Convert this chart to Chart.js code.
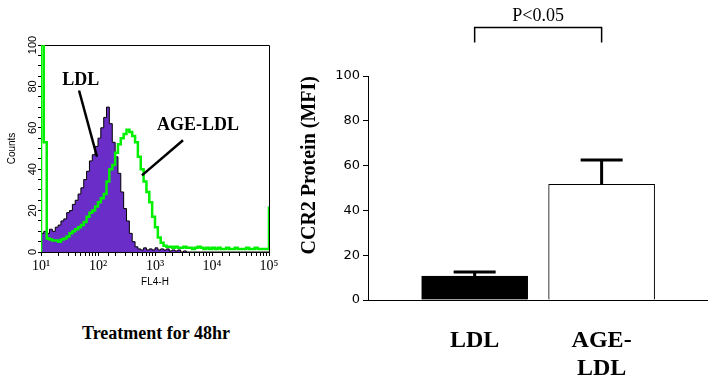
<!DOCTYPE html>
<html>
<head>
<meta charset="utf-8">
<script src="https://cdn.jsdelivr.net/npm/chart.js@4.4.1/dist/chart.umd.min.js"></script>
<style>
  html, body { margin: 0; padding: 0; background: #fff; }
  #wrap { position: relative; width: 716px; height: 381px; overflow: hidden; }
  #histo { position: absolute; left: 0; top: 0; }
  #bars { position: absolute; left: 290px; top: 0; }
  #caption { position: absolute; left: 82px; top: 324px; font: bold 18px/18px "Liberation Serif", serif; white-space: nowrap; }
</style>
</head>
<body>
<div id="wrap">
  <canvas id="histo" width="290" height="300"></canvas>
  <canvas id="bars" width="426" height="381"></canvas>
  <div id="caption">Treatment for 48hr</div>
</div>
<script>
// FL4-H channel where each histogram bin starts (log spaced)
const fl4 = [10,
  10, 11.2, 12.6, 14.1, 15.8, 17.8, 20.0, 22.4, 25.1, 28.2,
  31.6, 35.5, 39.8, 44.7, 50.1, 56.2, 63.1, 70.8, 79.4, 89.1,
  100, 112, 126, 141, 158, 178, 200, 224, 251, 282,
  316, 355, 398, 447, 501, 562, 631, 708, 794, 891,
  1000, 1122, 1259, 1413, 1585, 1778, 1995, 2239, 2512, 2818,
  3162, 3548, 3981, 4467, 5012, 5623, 6310, 7079, 7943, 8913,
  10000, 11220, 12589, 14125, 15849, 17783, 19953, 22387, 25119, 28184,
  31623, 35481, 39811, 44668, 50119, 56234, 63096, 70795, 79433, 89125,
  100000];

// counts, LDL (purple filled)
const ldlCounts = [0,
  9, 10, 9, 11, 10, 12, 13, 15, 16, 19,
  20, 23, 25, 28, 31, 35, 39, 44, 47, 51,
  55, 60, 65, 70, 62, 53, 46, 38, 29, 21,
  15, 9, 5, 2.5, 1.5, 1, 2, 1, 1.5, 1,
  2, 1, 1.5, 1, 1.5, 0.5, 1, 0.5, 1, 0,
  0.5, 0, 0, 0, 0, 0, 0, 0, 0, 0,
  0, 0, 0, 0, 0, 0, 0, 0, 0, 0,
  0, 0, 0, 0, 0, 0, 0, 0, 0, 0,
  0];

// counts, AGE-LDL (green line); first bin is off scale
const ageCounts = [0,
  110, 53, 6.5, 6, 5.5, 5.5, 5, 6, 6.5, 7.5,
  9, 10, 11, 12, 13, 14.5, 17, 19, 20, 22,
  24, 26, 28, 34, 40, 42, 48, 52, 55, 57,
  59, 58, 56, 53, 46, 40, 34, 29, 24, 17,
  12, 7, 4.5, 3, 2.5, 2.5, 2, 2.5, 2, 2,
  2.5, 2, 2, 1.5, 2, 2.5, 2, 1.5, 2, 1.5,
  2, 1.5, 2, 1.5, 1.5, 2, 1.5, 1.5, 2, 1.5,
  1.5, 1.5, 2, 1.5, 1.5, 2, 1.5, 1.5, 1.5, 1.5,
  22];

const decadeTicks = [10, 100, 1000, 10000, 100000];
const decadeLabels = ['10¹', '10²', '10³', '10⁴', '10⁵'];

// bar chart
const groups = ['LDL', ['AGE-', 'LDL']];
const groupPos = [1, 2];
const mfiMean = [10.7, 51.6];
const mfiErr = [1.8, 10.9];
const pText = 'P<0.05';
const pLevels = [122, 115];

let toPoints = (counts) => counts.map((v, i) => ({ x: fl4[i], y: v }));

// frame + labelled pointers on the histogram
let histoFrame = {
  id: 'histoFrame',
  beforeDatasetsDraw(chart) {
    const { ctx, chartArea: a } = chart;
    ctx.save();
    ctx.strokeStyle = '#000';
    ctx.lineWidth = 1;
    ctx.beginPath();
    ctx.moveTo(a.left, a.top + 0.5);
    ctx.lineTo(a.right + 0.5, a.top + 0.5);
    ctx.lineTo(a.right + 0.5, a.bottom);
    ctx.stroke();
    ctx.restore();
  },
  afterDatasetsDraw(chart) {
    const { ctx, scales: { x, y } } = chart;
    const notes = [
      { text: 'LDL', at: [50, 83], from: [46.5, 78], to: [96, 46] },
      { text: 'AGE-LDL', at: [5700, 61], from: [3100, 54], to: [590, 37] }
    ];
    ctx.save();
    ctx.strokeStyle = '#000';
    ctx.fillStyle = '#000';
    ctx.lineWidth = 2.5;
    ctx.font = 'bold 18px "Liberation Serif", serif';
    ctx.textAlign = 'center';
    ctx.textBaseline = 'middle';
    notes.forEach(n => {
      ctx.beginPath();
      ctx.moveTo(x.getPixelForValue(n.from[0]), y.getPixelForValue(n.from[1]));
      ctx.lineTo(x.getPixelForValue(n.to[0]), y.getPixelForValue(n.to[1]));
      ctx.stroke();
      ctx.fillText(n.text, x.getPixelForValue(n.at[0]), y.getPixelForValue(n.at[1]));
    });
    ctx.restore();
  }
};

// error bars and significance bracket
let barExtras = {
  id: 'barExtras',
  afterDatasetsDraw(chart) {
    const { ctx, scales: { x, y } } = chart;
    ctx.save();
    ctx.strokeStyle = '#000';
    ctx.fillStyle = '#000';
    ctx.lineWidth = 3;
    groupPos.forEach((p, i) => {
      const px = x.getPixelForValue(p);
      const top = y.getPixelForValue(mfiMean[i]);
      const end = y.getPixelForValue(mfiMean[i] + mfiErr[i]);
      ctx.beginPath();
      ctx.moveTo(px, top);
      ctx.lineTo(px, end);
      ctx.moveTo(px - 21, end);
      ctx.lineTo(px + 21, end);
      ctx.stroke();
    });
    const x1 = x.getPixelForValue(groupPos[0]);
    const x2 = x.getPixelForValue(groupPos[1]);
    const yb = Math.round(y.getPixelForValue(pLevels[0])) + 0.5;
    const yl = y.getPixelForValue(pLevels[1]);
    ctx.lineWidth = 1.5;
    ctx.beginPath();
    ctx.moveTo(x1, yl);
    ctx.lineTo(x1, yb);
    ctx.lineTo(x2, yb);
    ctx.lineTo(x2, yl);
    ctx.stroke();
    ctx.font = '18px "Liberation Serif", serif';
    ctx.textAlign = 'center';
    ctx.textBaseline = 'alphabetic';
    ctx.fillText(pText, (x1 + x2) / 2, yb - 7);
    ctx.restore();
  }
};

let drawHisto = () => {
  const ctx = document.getElementById('histo');
  new Chart(ctx, {
    type: 'line',
    data: {
      datasets: [
        {
          label: 'AGE-LDL',
          data: toPoints(ageCounts),
          stepped: true,
          borderColor: '#00f000',
          borderWidth: 2.5,
          pointRadius: 0,
          fill: false,
          order: 0
        },
        {
          label: 'LDL',
          data: toPoints(ldlCounts),
          stepped: true,
          borderColor: '#000',
          borderWidth: 1,
          backgroundColor: '#6a2dc8',
          pointRadius: 0,
          fill: 'origin',
          order: 1
        }
      ]
    },
    options: {
      responsive: false,
      animation: false,
      layout: { padding: { top: 45, right: 21, left: 0, bottom: 0 } },
      plugins: { legend: { display: false }, tooltip: { enabled: false } },
      scales: {
        x: {
          type: 'logarithmic',
          min: 10,
          max: 100000,
          afterFit: (s) => { s.height = 48; },
          grid: { display: true, drawOnChartArea: false, drawTicks: true, tickLength: 4, color: '#000' },
          border: { display: true, color: '#000', width: 1 },
          ticks: {
            autoSkip: false,
            maxRotation: 0,
            padding: 2,
            color: '#000',
            font: { family: '"Liberation Serif", serif', size: 14 },
            callback: (v) => {
              const i = decadeTicks.findIndex(t => Math.abs(v - t) / t < 1e-6);
              return i >= 0 ? decadeLabels[i] : '';
            }
          },
          title: {
            display: true,
            text: 'FL4-H',
            color: '#000',
            font: { family: '"Liberation Sans", sans-serif', size: 10 },
            padding: { top: 0, bottom: 12 }
          }
        },
        y: {
          min: 0,
          max: 100,
          afterFit: (s) => { s.width = 41; },
          grid: { display: true, drawOnChartArea: false, drawTicks: true, tickLength: 3, color: '#000' },
          border: { display: true, color: '#000', width: 1 },
          ticks: {
            stepSize: 5,
            autoSkip: false,
            minRotation: 90,
            maxRotation: 90,
            crossAlign: 'center',
            padding: -4,
            color: '#000',
            font: { family: '"Liberation Sans", sans-serif', size: 11 },
            callback: (v) => (v % 20 === 0 ? v : '')
          },
          title: {
            display: true,
            text: 'Counts',
            color: '#000',
            font: { family: '"Liberation Sans", sans-serif', size: 10 },
            padding: { top: 6, bottom: 0 }
          }
        }
      }
    },
    plugins: [histoFrame]
  });
};

let drawBars = () => {
  const ctx = document.getElementById('bars');
  new Chart(ctx, {
    type: 'bar',
    data: {
      datasets: [{
        label: 'CCR2',
        data: groupPos.map((p, i) => ({ x: p, y: mfiMean[i] })),
        backgroundColor: ['#000', '#fff'],
        borderColor: '#000',
        borderWidth: 1,
        barThickness: 106
      }]
    },
    options: {
      responsive: false,
      animation: false,
      layout: { padding: { top: 76, right: 9, left: 0, bottom: 0 } },
      plugins: { legend: { display: false }, tooltip: { enabled: false } },
      scales: {
        x: {
          type: 'linear',
          offset: false,
          min: 0.16,
          max: 2.83,
          afterFit: (s) => { s.height = 81; },
          afterBuildTicks: (s) => { s.ticks = groupPos.map(p => ({ value: p })); },
          grid: { display: false },
          border: { display: true, color: '#000', width: 1 },
          ticks: {
            autoSkip: false,
            maxRotation: 0,
            padding: 18,
            color: '#000',
            font: { family: '"Liberation Serif", serif', size: 24, weight: 'bold', lineHeight: 1.2 },
            callback: (v, i) => groups[i]
          }
        },
        y: {
          min: 0,
          max: 100,
          afterFit: (s) => { s.width = 78; },
          grid: { display: true, drawOnChartArea: false, drawTicks: true, tickLength: 5, color: '#000' },
          border: { display: true, color: '#000', width: 1 },
          ticks: {
            stepSize: 20,
            padding: 3,
            color: '#000',
            font: { family: '"DejaVu Sans", sans-serif', size: 13 }
          },
          title: {
            display: true,
            text: 'CCR2 Protein (MFI)',
            align: 'end',
            color: '#000',
            font: { family: '"Liberation Serif", serif', size: 20, weight: 'bold' },
            padding: { top: 8, bottom: 0 }
          }
        }
      }
    },
    plugins: [barExtras]
  });
};

drawHisto();
drawBars();
</script>
</body>
</html>
